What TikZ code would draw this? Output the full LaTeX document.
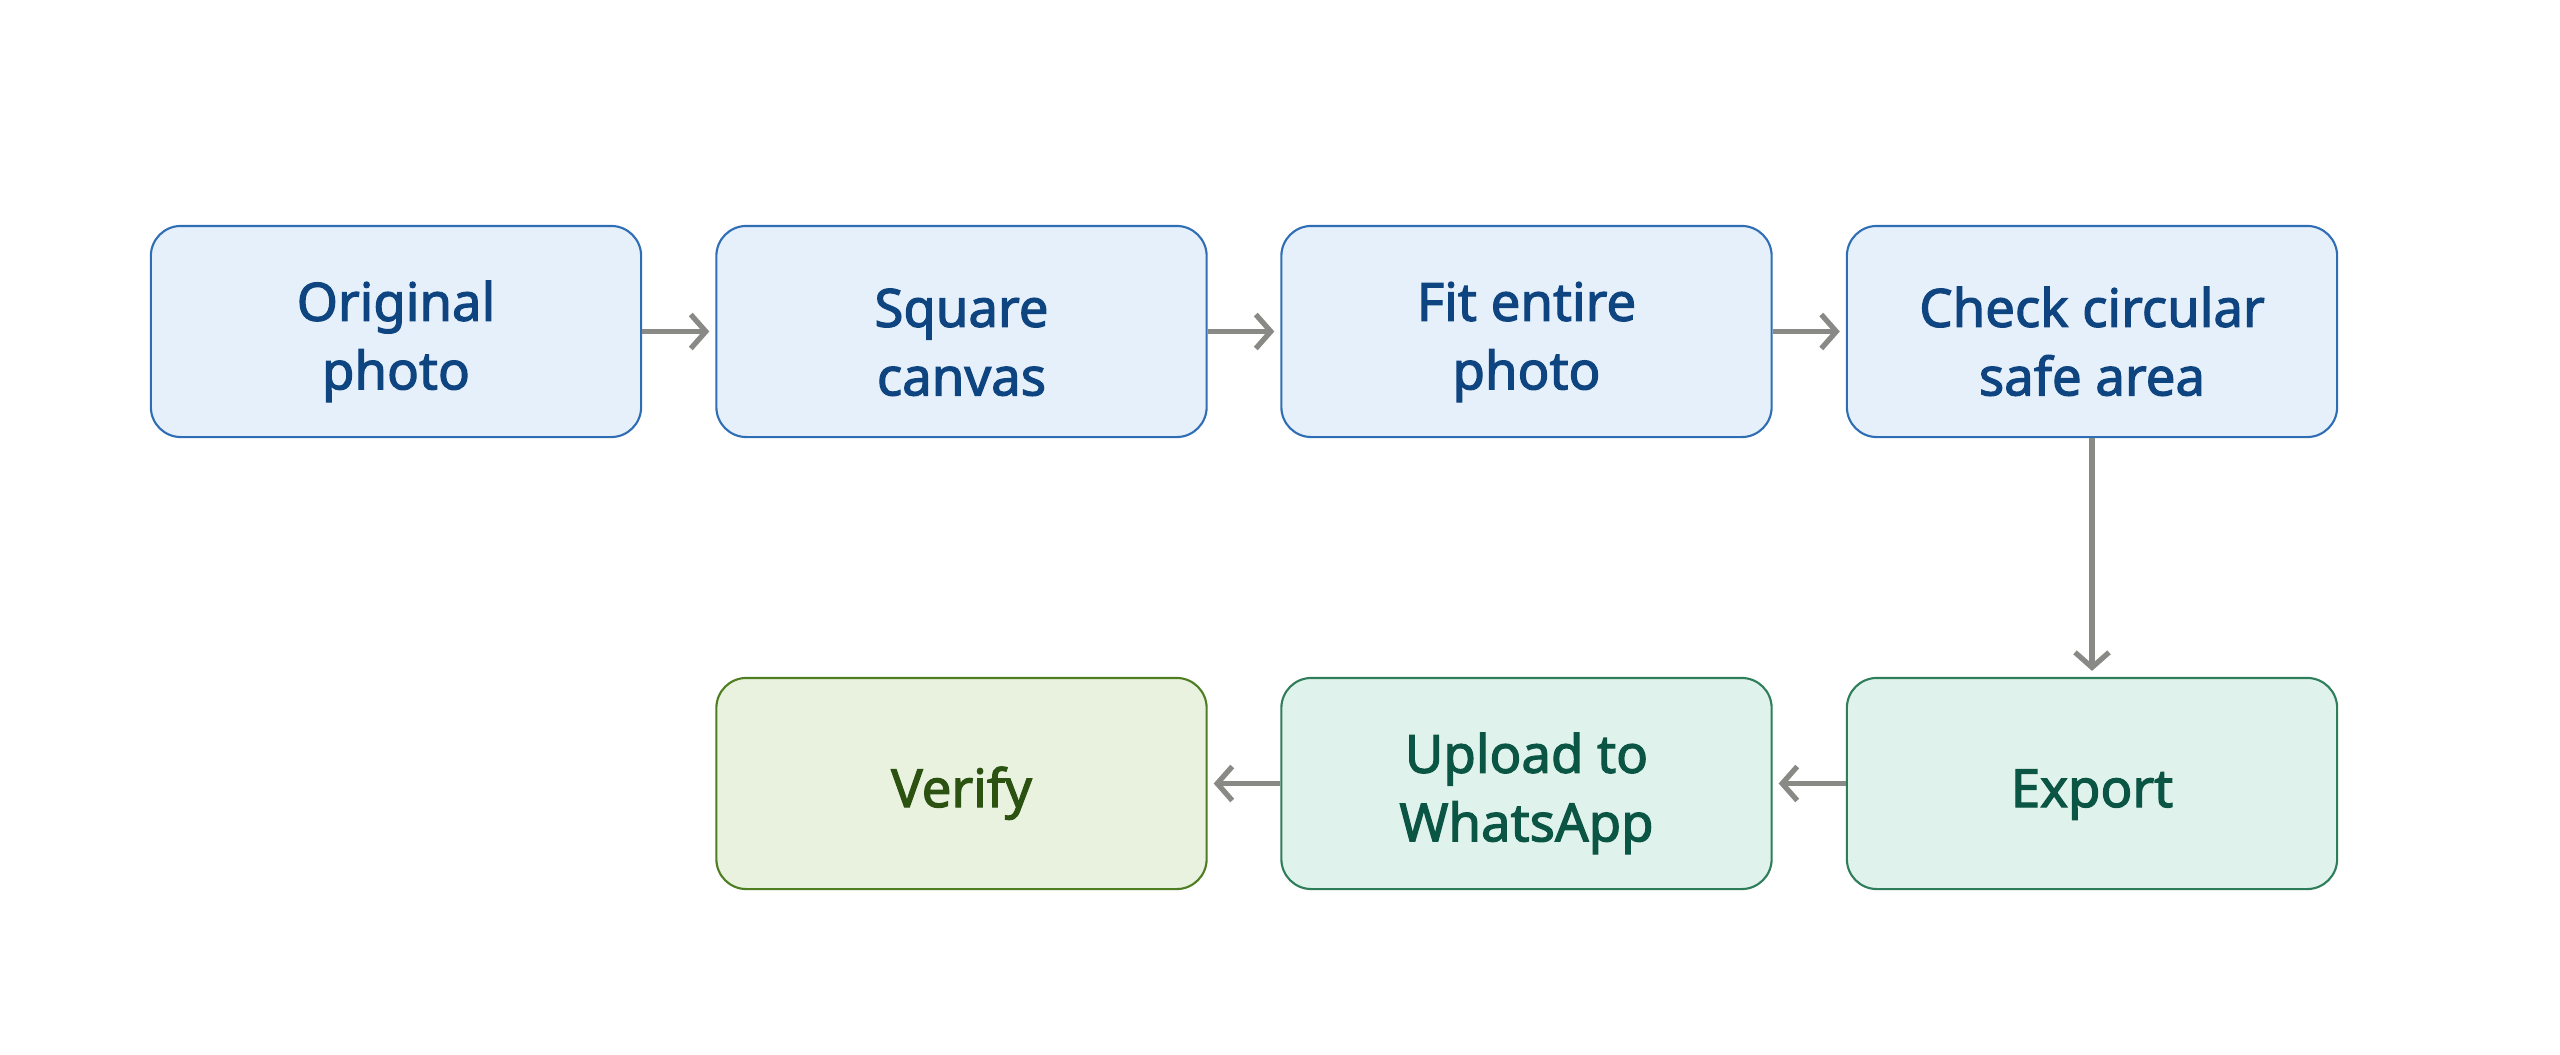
\documentclass[tikz,border=0pt]{standalone}
\usepackage{fontspec}
\setmainfont{Noto Sans}[AutoFakeBold=2.2]
\usetikzlibrary{arrows.meta}
\definecolor{bfill}{HTML}{E6F0FA}
\definecolor{bdraw}{HTML}{2F6EB5}
\definecolor{btext}{HTML}{0E4580}
\definecolor{gfill}{HTML}{E0F2EC}
\definecolor{gdraw}{HTML}{2E7D5B}
\definecolor{gtext}{HTML}{0B5544}
\definecolor{vfill}{HTML}{E8F2DE}
\definecolor{vdraw}{HTML}{4E7D22}
\definecolor{vtext}{HTML}{2C5212}
\definecolor{arr}{HTML}{898985}
\newcommand\mystrut{\rule{0pt}{17pt}}
\tikzset{
  x=0.01cm, y=-0.01cm,
  box/.style={rounded corners=0.3cm, minimum width=4.9cm, minimum height=2.11cm,
    align=center, font=\fontsize{15}{19.5}\selectfont\bfseries, line width=0.6pt, inner sep=0pt},
  bluebox/.style={box, fill=bfill, draw=bdraw, text=btext},
  greenbox/.style={box, fill=gfill, draw=gdraw, text=gtext},
  verbox/.style={box, fill=vfill, draw=vdraw, text=vtext},
  flow/.style={draw=arr, line width=1.5pt, -{Straight Barb[length=1.5mm,width=3.4mm,line width=1.5pt]}, shorten >=0.6mm}
}
\begin{document}
\begin{tikzpicture}
\useasboundingbox (0,0) rectangle (2560,1054);
\node[bluebox] (a) at (396,331.5) {\mystrut Original\\photo};
\node[bluebox] (b) at (961.5,331.5) {\mystrut Square\\canvas};
\node[bluebox] (c) at (1526.5,331.5) {\mystrut Fit entire\\photo};
\node[bluebox] (d) at (2092,331.5) {\mystrut Check circular\\safe area};
\node[greenbox] (e) at (2092,783.5) {\mystrut Export};
\node[greenbox] (f) at (1526.5,783.5) {\mystrut Upload to\\WhatsApp};
\node[verbox] (g) at (961.5,783.5) {\mystrut Verify};
\draw[flow] (a) -- (b);
\draw[flow] (b) -- (c);
\draw[flow] (c) -- (d);
\draw[flow] (d) -- (e);
\draw[flow] (e) -- (f);
\draw[flow] (f) -- (g);
\end{tikzpicture}
\end{document}
